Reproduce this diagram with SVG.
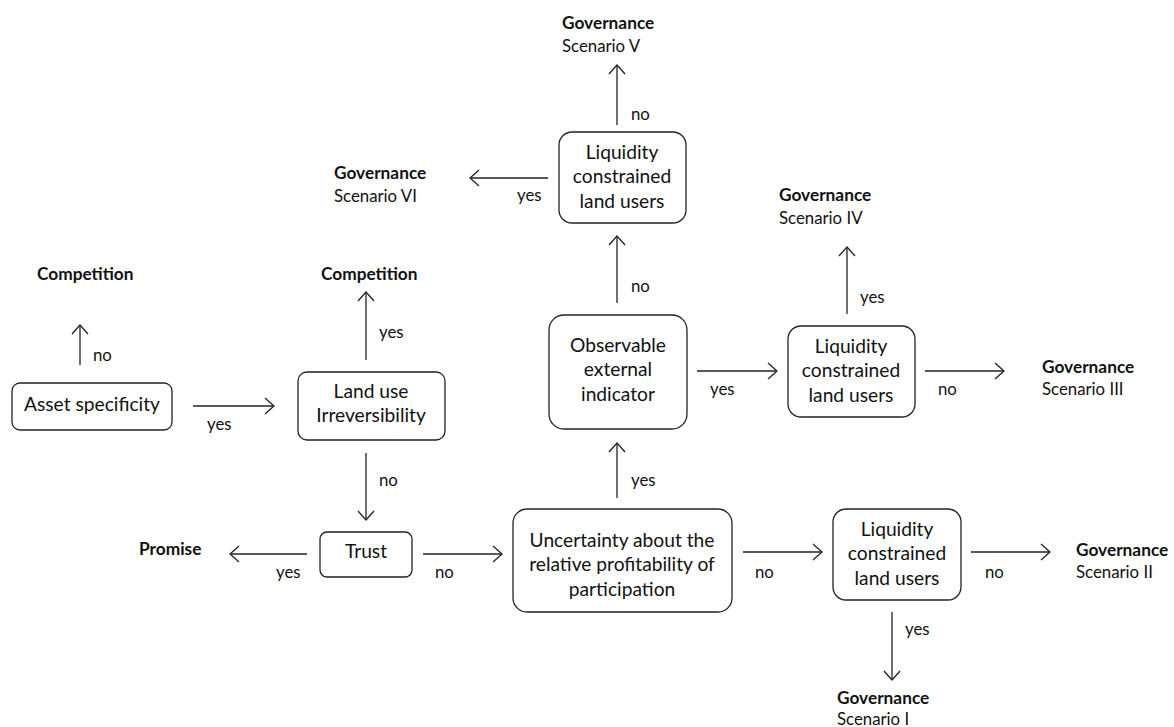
<svg xmlns="http://www.w3.org/2000/svg" width="1174" height="727" viewBox="0 0 1174 727">
<style>
.box{fill:#fff;stroke:#222;stroke-width:1.3}
.t{font-family:Lato,"Liberation Sans",sans-serif;font-size:19.2px;fill:#111;text-anchor:middle}
.l{font-family:Lato,"Liberation Sans",sans-serif;font-size:16.8px;fill:#111}
.b{font-family:Lato,"Liberation Sans",sans-serif;font-size:17.3px;font-weight:bold;fill:#111}
.c{stroke:#222;stroke-width:1.3;fill:none;marker-end:url(#a)}
</style>
<defs>
<marker id="a" markerWidth="24" markerHeight="24" refX="12" refY="12" orient="auto" markerUnits="userSpaceOnUse">
<path d="M3,4 L12,12 L3,20" fill="none" stroke="#222" stroke-width="1.3"/>
</marker>
</defs>
<rect width="1174" height="727" fill="#fff"/>
<g id="connectors">
<line class="c" x1="80" y1="365" x2="80" y2="325"/>
<line class="c" x1="193" y1="406" x2="274" y2="406"/>
<line class="c" x1="366" y1="360" x2="366" y2="292"/>
<line class="c" x1="366" y1="453" x2="366" y2="520"/>
<line class="c" x1="307" y1="554" x2="230" y2="554"/>
<line class="c" x1="423" y1="554" x2="502" y2="554"/>
<line class="c" x1="617" y1="498" x2="617" y2="443"/>
<line class="c" x1="743" y1="552" x2="822" y2="552"/>
<line class="c" x1="971" y1="552" x2="1050" y2="552"/>
<line class="c" x1="892" y1="612" x2="892" y2="680"/>
<line class="c" x1="617" y1="303" x2="617" y2="236"/>
<line class="c" x1="697" y1="371" x2="777" y2="371"/>
<line class="c" x1="847" y1="314" x2="847" y2="247"/>
<line class="c" x1="925" y1="371" x2="1004" y2="371"/>
<line class="c" x1="617" y1="125" x2="617" y2="65"/>
<line class="c" x1="548" y1="178" x2="470" y2="178"/>
<text class="l" x="93" y="361">no</text>
<text class="l" x="207" y="430">yes</text>
<text class="l" x="379" y="338">yes</text>
<text class="l" x="379" y="486">no</text>
<text class="l" x="276" y="578">yes</text>
<text class="l" x="435" y="578">no</text>
<text class="l" x="631" y="486">yes</text>
<text class="l" x="755" y="578">no</text>
<text class="l" x="985" y="578">no</text>
<text class="l" x="905" y="635">yes</text>
<text class="l" x="631" y="292">no</text>
<text class="l" x="710" y="395">yes</text>
<text class="l" x="860" y="303">yes</text>
<text class="l" x="938" y="395">no</text>
<text class="l" x="631" y="120">no</text>
<text class="l" x="517" y="201">yes</text>
</g>
<g id="asset">
<rect class="box" x="12" y="383" width="160" height="47" rx="8"/>
<text class="t" x="92" y="411">Asset specificity</text>
</g>
<g id="landuse">
<rect class="box" x="298" y="372" width="147" height="68" rx="9"/>
<text class="t" x="371" y="398">Land use</text>
<text class="t" x="371" y="422">Irreversibility</text>
</g>
<g id="trust">
<rect class="box" x="320" y="532" width="92" height="45" rx="7"/>
<text class="t" x="366" y="558">Trust</text>
</g>
<g id="uncertainty">
<rect class="box" x="513" y="509" width="219" height="103" rx="14"/>
<text class="t" x="622" y="547">Uncertainty about the</text>
<text class="t" x="622" y="571">relative profitability of</text>
<text class="t" x="622" y="596">participation</text>
</g>
<g id="observable">
<rect class="box" x="549" y="315" width="138" height="114" rx="15"/>
<text class="t" x="618" y="352">Observable</text>
<text class="t" x="618" y="376">external</text>
<text class="t" x="618" y="401">indicator</text>
</g>
<g id="liq-top">
<rect class="box" x="559" y="132" width="127" height="91" rx="13"/>
<text class="t" x="622" y="159">Liquidity</text>
<text class="t" x="622" y="183">constrained</text>
<text class="t" x="622" y="208">land users</text>
</g>
<g id="liq-right">
<rect class="box" x="788" y="326" width="127" height="91" rx="13"/>
<text class="t" x="851" y="353">Liquidity</text>
<text class="t" x="851" y="377">constrained</text>
<text class="t" x="851" y="402">land users</text>
</g>
<g id="liq-bottom">
<rect class="box" x="833" y="509" width="128" height="91" rx="13"/>
<text class="t" x="897" y="536">Liquidity</text>
<text class="t" x="897" y="560">constrained</text>
<text class="t" x="897" y="585">land users</text>
</g>
<g id="competition1"><text class="b" x="37" y="280">Competition</text></g>
<g id="competition2"><text class="b" x="321" y="280">Competition</text></g>
<g id="promise"><text class="b" x="139" y="555">Promise</text></g>
<g id="gov5"><text class="b" x="562" y="29">Governance</text><text class="l" x="562" y="52">Scenario V</text></g>
<g id="gov6"><text class="b" x="334" y="179">Governance</text><text class="l" x="334" y="202">Scenario VI</text></g>
<g id="gov4"><text class="b" x="779" y="201">Governance</text><text class="l" x="779" y="224">Scenario IV</text></g>
<g id="gov3"><text class="b" x="1042" y="373">Governance</text><text class="l" x="1042" y="395">Scenario III</text></g>
<g id="gov2"><text class="b" x="1076" y="556">Governance</text><text class="l" x="1076" y="578">Scenario II</text></g>
<g id="gov1"><text class="b" x="837" y="704">Governance</text><text class="l" x="837" y="725">Scenario I</text></g>
</svg>
